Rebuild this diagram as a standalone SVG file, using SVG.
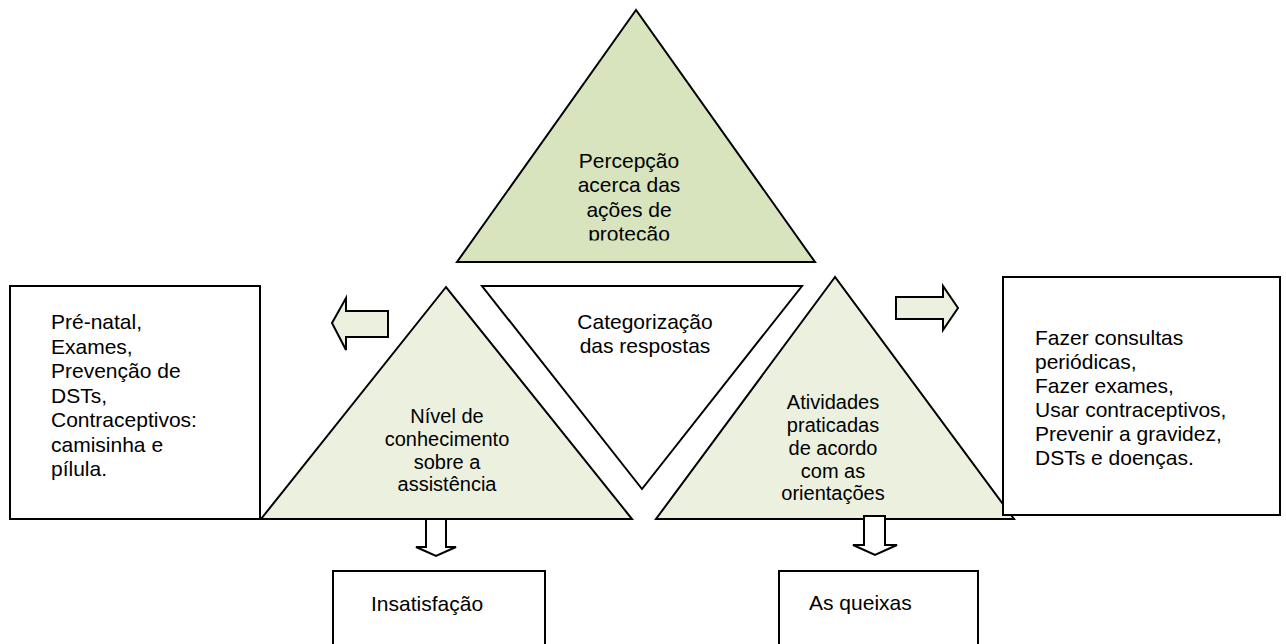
<svg xmlns="http://www.w3.org/2000/svg" width="1286" height="644" viewBox="0 0 1286 644">
  <style>
    .shape { stroke: #000; stroke-width: 2; stroke-linejoin: miter; }
    .dark { fill: #d7e4bd; }
    .light { fill: #ebf1de; }
    .white { fill: #fff; }
    text { font-family: "Liberation Sans", Arial, sans-serif; font-size: 21px; fill: #000; }
    .c { text-anchor: middle; }
    .s20 { font-size: 20px; }
  </style>
  <defs>
    <clipPath id="clipTop">
      <rect x="0" y="0" width="1286" height="240.5"/>
    </clipPath>
  </defs>

  <g id="node-percepcao">
    <polygon class="shape dark" points="636,10 457,262 815,262"/>
    <g clip-path="url(#clipTop)">
      <text class="c" x="629" y="167.5">Percepção</text>
      <text class="c" x="629" y="192">acerca das</text>
      <text class="c" x="629" y="216.5">ações de</text>
      <text class="c" x="629" y="241">proteção</text>
    </g>
  </g>

  <g id="node-categorizacao">
    <polygon class="shape white" points="482,286 802,286 642,489"/>
    <text class="c" x="645" y="329">Categorização</text>
    <text class="c" x="645" y="353">das respostas</text>
  </g>

  <g id="node-nivel">
    <polygon class="shape light" points="446,287 261,519 632,519"/>
    <text class="c s20" x="447" y="423">Nível de</text>
    <text class="c s20" x="447" y="446">conhecimento</text>
    <text class="c s20" x="447" y="468.5">sobre a</text>
    <text class="c s20" x="447" y="491">assistência</text>
  </g>

  <g id="node-atividades">
    <polygon class="shape light" points="835,277 656,519 1014,519"/>
    <text class="c s20" x="833" y="409">Atividades</text>
    <text class="c s20" x="833" y="432">praticadas</text>
    <text class="c s20" x="833" y="454.5">de acordo</text>
    <text class="c s20" x="833" y="477.5">com as</text>
    <text class="c s20" x="833" y="500">orientações</text>
  </g>

  <g id="node-left-box">
    <rect class="shape white" x="10" y="286" width="250" height="233"/>
    <text x="51" y="329">Pré-natal,</text>
    <text x="51" y="353.5">Exames,</text>
    <text x="51" y="378">Prevenção de</text>
    <text x="51" y="402.5">DSTs,</text>
    <text x="51" y="427">Contraceptivos:</text>
    <text x="51" y="451.5">camisinha e</text>
    <text x="51" y="476">pílula.</text>
  </g>

  <g id="node-right-box">
    <rect class="shape white" x="1003" y="277" width="277" height="238"/>
    <text x="1035" y="345">Fazer consultas</text>
    <text x="1035" y="369">periódicas,</text>
    <text x="1035" y="393">Fazer exames,</text>
    <text x="1035" y="417">Usar contraceptivos,</text>
    <text x="1035" y="441">Prevenir a gravidez,</text>
    <text x="1035" y="465">DSTs e doenças.</text>
  </g>

  <g id="node-insatisfacao">
    <rect class="shape white" x="333" y="571" width="212" height="90"/>
    <text x="371" y="611">Insatisfação</text>
  </g>

  <g id="node-queixas">
    <rect class="shape white" x="779" y="571" width="199" height="90"/>
    <text x="809" y="610">As queixas</text>
  </g>

  <g id="connectors">
    <polygon class="shape light" points="332,323 346,298 346,311 388,311 388,337 346,337 346,350"/>
    <polygon class="shape light" points="896,297 943,297 943,286 958,308 943,330 943,319 896,319"/>
    <polygon class="shape white" points="426,519 446,519 446,547 456,547 436,556 416,547 426,547"/>
    <polygon class="shape white" points="864,516 885,516 885,545 897,545 875,555 853,545 864,545"/>
  </g>
</svg>
